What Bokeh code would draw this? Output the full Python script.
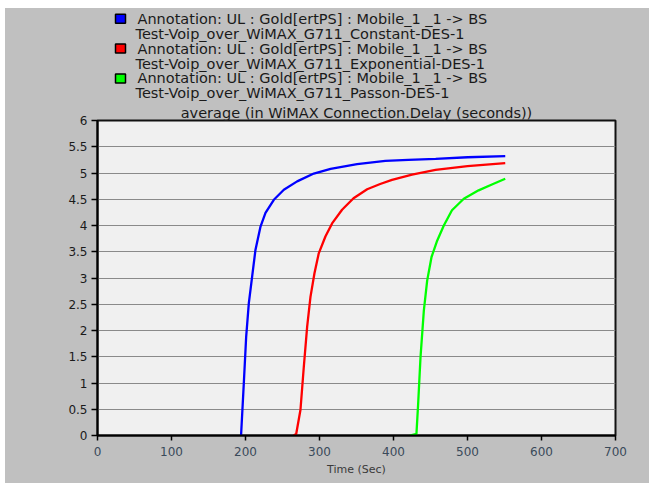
from bokeh.plotting import figure
from bokeh.models import Range1d, FixedTicker, CustomJSTickFormatter, Spacer, Title
from bokeh.layouts import column, row
from bokeh.core.properties import value
from bokeh.embed import file_html
from bokeh.resources import INLINE

# ---- data ----
blue_t = [194, 197.7, 200.9, 204.5, 209, 213.5, 220.3, 227, 238.3, 251.8, 269.8, 292.3, 315, 350.8, 389, 420, 457, 500, 551]
blue_v = [0, 0.99, 1.88, 2.52, 3.03, 3.54, 3.98, 4.24, 4.49, 4.68, 4.84, 4.99, 5.08, 5.17, 5.23, 5.25, 5.27, 5.30, 5.32]

red_t = [265, 268.5, 274.3, 278.8, 283.3, 287.8, 293.2, 299, 308, 317, 330.5, 346, 364.4, 382, 398, 425, 456.8, 500, 551]
red_v = [0, 0.03, 0.49, 1.31, 2.07, 2.64, 3.09, 3.47, 3.79, 4.04, 4.30, 4.52, 4.69, 4.79, 4.87, 4.97, 5.06, 5.13, 5.19]

green_t = [422, 431, 433.3, 436.5, 441, 445.5, 451.4, 459, 468, 479, 495, 515, 533, 551]
green_v = [0, 0.03, 0.60, 1.49, 2.38, 2.95, 3.40, 3.71, 4.0, 4.29, 4.51, 4.67, 4.78, 4.89]

series_line1 = ["Annotation: UL : Gold[ertPS] : Mobile_1 _1 -> BS"] * 3
series_line2 = ["Test-Voip_over_WiMAX_G711_Constant-DES-1",
                "Test-Voip_over_WiMAX_G711_Exponential-DES-1",
                "Test-Voip_over_WiMAX_G711_Passon-DES-1"]
series_colors = ["#0000ff", "#ff0000", "#00ff00"]
x_ticks = [0, 100, 200, 300, 400, 500, 600, 700]
y_ticks = [0, 0.5, 1, 1.5, 2, 2.5, 3, 3.5, 4, 4.5, 5, 5.5, 6]
chart_title = "average (in WiMAX Connection.Delay (seconds))"
x_title = "Time (Sec)"

# ---- layout (pixels) ----
PAD_L, PAD_T = 5, 8
W = 644
FT = 18               # title band of the main chart
LEG_H = 112 - FT
MAIN_H = 363 + FT
FL, FR, FB = 92, 34, 48
FONT = "DejaVu Sans"
BG = "#c0c0c0"
TXT = "14.5px"

# ---- legend strip, coordinates in figure pixels (y measured up from its bottom) ----
lg = figure(width=W, height=LEG_H, output_backend="svg", toolbar_location=None, title=None,
            x_range=Range1d(FL, W - FR), y_range=Range1d(0, LEG_H),
            min_border=0, min_border_left=FL, min_border_right=FR)
lg.axis.visible = False
lg.grid.visible = False
lg.outline_line_color = None
lg.background_fill_color = BG
lg.border_fill_color = BG

row_top = 101.7 - FT
row_step = 14.9
sq_left, sq_w, sq_h = 110, 10, 9
for i, (l1, l2, c) in enumerate(zip(series_line1, series_line2, series_colors)):
    y1 = row_top - 2 * i * row_step
    y2 = y1 - row_step
    lg.quad(left=[sq_left], right=[sq_left + sq_w], bottom=[y1 - sq_h / 2], top=[y1 + sq_h / 2],
            fill_color=c, line_color="#000000", line_width=1.5)
    lg.text(x=[132], y=[y1], text=[l1], text_baseline="middle", text_font=value(FONT),
            text_font_size=TXT, text_color="#1a1a1a")
    lg.text(x=[130], y=[y2], text=[l2], text_baseline="middle", text_font=value(FONT),
            text_font_size=TXT, text_color="#1a1a1a")

# ---- main chart ----
p = figure(width=W, height=MAIN_H, output_backend="svg", toolbar_location=None,
           title=Title(text=chart_title, align="center", text_font=FONT, text_font_size=TXT,
                       text_font_style="normal", text_color="#1a1a1a", standoff=0),
           x_range=Range1d(0, 700), y_range=Range1d(0, 6),
           min_border=0, min_border_left=FL, min_border_right=FR,
           min_border_top=FT, min_border_bottom=FB)
p.border_fill_color = BG
p.background_fill_color = "#f0f0f0"
p.outline_line_color = "#111111"
p.outline_line_width = 2

p.xgrid.visible = False
p.ygrid.grid_line_color = "#8a8a8a"
p.ygrid.grid_line_width = 1

for ax in (p.xaxis[0], p.yaxis[0]):
    ax.axis_line_color = "#000000"
    ax.axis_line_width = 2
    ax.major_tick_line_color = "#000000"
    ax.major_tick_line_width = 1.5
    ax.major_tick_in = 0
    ax.minor_tick_line_color = None
    ax.major_label_text_font = FONT
    ax.major_label_text_font_size = "12px"

p.yaxis.major_tick_out = 6
p.xaxis.major_tick_out = 5
p.xaxis.ticker = FixedTicker(ticks=x_ticks)
p.yaxis.ticker = FixedTicker(ticks=y_ticks)
p.yaxis.formatter = CustomJSTickFormatter(code="return tick.toString();")
p.yaxis.major_label_text_color = "#1a1a1a"
p.yaxis.major_label_standoff = 4
p.xaxis.major_label_text_color = "#3a4a5a"
p.xaxis.major_label_standoff = 6
p.xaxis.axis_label = x_title
p.xaxis.axis_label_text_font = FONT
p.xaxis.axis_label_text_font_size = "11px"
p.xaxis.axis_label_text_font_style = "normal"
p.xaxis.axis_label_text_color = "#3a3a3a"
p.xaxis.axis_label_standoff = 4

for t, v, c in zip([blue_t, red_t, green_t], [blue_v, red_v, green_v], series_colors):
    p.line(t, v, line_color=c, line_width=2.3)

inner = column(lg, p, spacing=0, styles={"background-color": BG})
layout = column(Spacer(height=PAD_T),
                row(Spacer(width=PAD_L), inner, spacing=0),
                spacing=0)

open("out.html", "w").write(file_html(layout, INLINE))
